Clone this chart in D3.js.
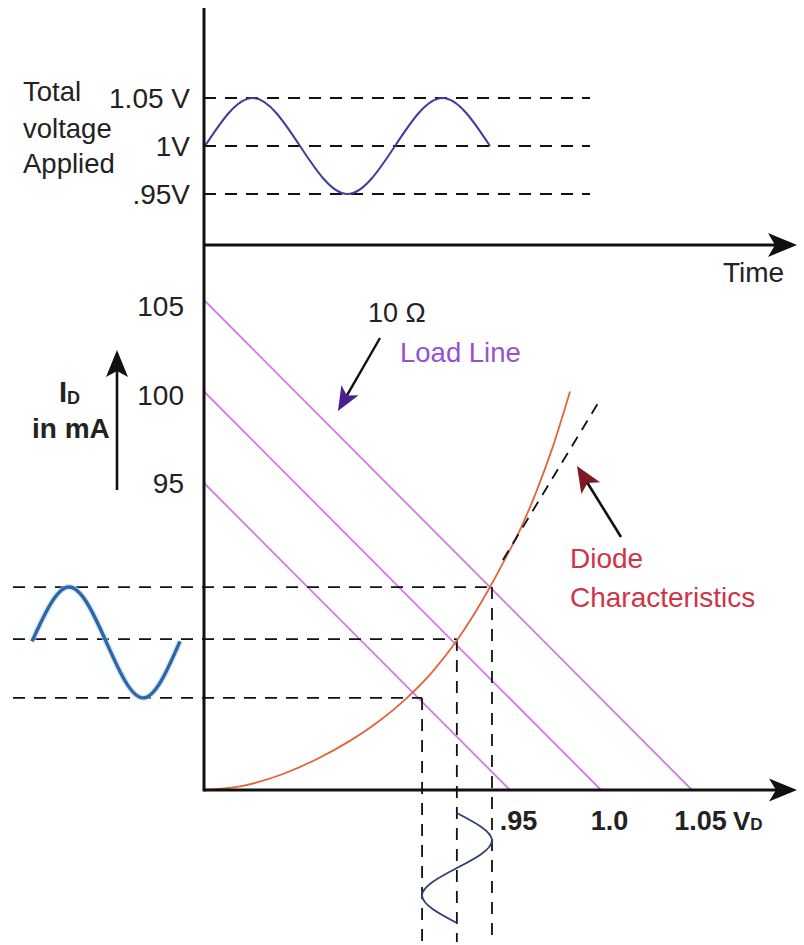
<!DOCTYPE html>
<html><head><meta charset="utf-8">
<script src="https://cdn.jsdelivr.net/npm/d3@7"></script>
<style>body{margin:0;background:#fff}svg{display:block}</style>
</head><body><svg id="c" width="804" height="945"></svg>
<script>
// ---------------- data ----------------
const vdTickValues = [0.95, 1.0, 1.05];
const vdTickLabels = [".95", "1.0", "1.05"];
const idTickValues = [105, 100, 95];
const idTickLabels = ["105", "100", "95"];
const supplyVoltages = [0.95, 1.0, 1.05];   // V
const loadResistance = 10;                  // ohm
const topTickValues = [1.05, 1.0, 0.95];
const topTickLabels = ["1.05 V", "1V", ".95V"];
const appliedPhase = [0, 0.25, 0.5, 0.75, 1, 1.25, 1.5];
const appliedVoltage = [1, 1.05, 1, 0.95, 1, 1.05, 1];
const diodeVD = [0, 0.112, 0.245, 0.351, 0.453, 0.546, 0.630, 0.711, 0.786, 0.888, 0.928, 0.9555, 0.9648, 0.9736, 0.983];
const diodeID = [0, 1.1, 4.95, 9.6, 15.2, 21.5, 28.5, 36.8, 46.4, 62.8, 70.2, 80.5, 92.8, 97.0, 100.0];
const tangentVD = [0.928, 0.998];
const tangentID = [71.2, 99.3];
const qVD = [0.677, 0.785, 0.894];
const qID = [28.5, 46.7, 62.8];
const currentPhase = [0, 0.25, 0.5, 0.75, 1];
const currentWave = [46, 62.8, 46, 28.5, 46];
const voltagePhase = [0, 0.25, 0.5, 0.75, 1];
const voltageWave = [0.785, 0.894, 0.785, 0.677, 0.785];

// ---------------- scales ----------------
const svg = d3.select("#c");
const FONT = '"Liberation Sans", Arial, sans-serif';
const x = d3.scaleLinear().domain([0, 0.95, 1.05]).range([204, 510, 692]);   // broken VD axis
const y = d3.scaleLinear().domain([0, 95, 105]).range([790, 483, 300]);      // broken ID axis
const tTop = d3.scaleLinear().domain([0, 1.5]).range([205, 490]);
const vTop = d3.scaleLinear().domain([0.95, 1.05]).range([194, 98]);
const tLeft = d3.scaleLinear().domain([0, 1]).range([32, 180]);
const tBottom = d3.scaleLinear().domain([0, 1]).range([813, 923]);
const dash = "12,9";

function arrowHead(tip, from, L, W, notch, fill) {
  const dx = tip[0] - from[0], dy = tip[1] - from[1];
  const len = Math.hypot(dx, dy), ux = dx / len, uy = dy / len, px = -uy, py = ux;
  const bx = tip[0] - ux * L, by = tip[1] - uy * L;
  const nx = tip[0] - ux * (L - notch), ny = tip[1] - uy * (L - notch);
  svg.append("path")
    .attr("d", `M${tip[0]},${tip[1]}L${bx + px * W},${by + py * W}L${nx},${ny}L${bx - px * W},${by - py * W}Z`)
    .attr("fill", fill);
  return [nx, ny];
}
function arrow(from, tip, L, W, notch, fill, sw) {
  const end = arrowHead(tip, from, L, W, notch, fill);
  svg.append("line").attr("x1", from[0]).attr("y1", from[1]).attr("x2", end[0]).attr("y2", end[1])
    .attr("stroke", "#111").attr("stroke-width", sw);
}

// ---------------- top panel ----------------
svg.append("g").selectAll("line").data(topTickValues).join("line")
  .attr("x1", 204).attr("x2", 590).attr("y1", d => vTop(d)).attr("y2", d => vTop(d))
  .attr("stroke", "#111").attr("stroke-width", 1.8).attr("stroke-dasharray", dash);

svg.append("path")
  .datum(appliedPhase.map((t, i) => [tTop(t), vTop(appliedVoltage[i])]))
  .attr("d", d3.line().curve(d3.curveNatural))
  .attr("fill", "none").attr("stroke", "#3d3d9e").attr("stroke-width", 2);

const topAxis = svg.append("g").attr("transform", "translate(204,0)")
  .call(d3.axisLeft(vTop).tickValues(topTickValues).tickFormat((d, i) => topTickLabels[i]).tickSize(0).tickPadding(14));
topAxis.select(".domain").remove();
topAxis.selectAll("text").attr("font-family", FONT).attr("font-size", 28).attr("fill", "#222").attr("dy", "0.34em");

svg.append("g").selectAll("text").data(["Total", "voltage", "Applied"]).join("text")
  .attr("x", 23).attr("y", (d, i) => [101, 138, 173][i]).text(d => d)
  .attr("font-family", FONT).attr("font-size", 27.5).attr("fill", "#222");

// ---------------- load lines ----------------
svg.append("g").selectAll("line").data(supplyVoltages).join("line")
  .attr("x1", x(0)).attr("y1", d => y(d / loadResistance * 1000))
  .attr("x2", d => x(d)).attr("y2", y(0))
  .attr("stroke", "#d27be3").attr("stroke-width", 1.8);

// ---------------- projections ----------------
svg.append("g").selectAll("line").data(qVD).join("line")
  .attr("x1", 13).attr("x2", d => x(d)).attr("y1", (d, i) => y(qID[i])).attr("y2", (d, i) => y(qID[i]))
  .attr("stroke", "#111").attr("stroke-width", 1.8).attr("stroke-dasharray", dash);
svg.append("g").selectAll("line").data(qVD).join("line")
  .attr("x1", d => x(d)).attr("x2", d => x(d)).attr("y1", (d, i) => y(qID[i])).attr("y2", 942)
  .attr("stroke", "#111").attr("stroke-width", 1.8).attr("stroke-dasharray", dash);

// ---------------- diode characteristic ----------------
svg.append("path")
  .datum(diodeVD.map((v, i) => [x(v), y(diodeID[i])]))
  .attr("d", d3.line().curve(d3.curveMonotoneX))
  .attr("fill", "none").attr("stroke", "#e0653c").attr("stroke-width", 1.8);
svg.append("line")
  .attr("x1", x(tangentVD[0])).attr("y1", y(tangentID[0])).attr("x2", x(tangentVD[1])).attr("y2", y(tangentID[1]))
  .attr("stroke", "#111").attr("stroke-width", 1.8).attr("stroke-dasharray", "11,8");

// ---------------- waveforms ----------------
const leftPts = currentPhase.map((t, i) => [tLeft(t), y(currentWave[i])]);
svg.append("path").datum(leftPts).attr("d", d3.line().curve(d3.curveNatural))
  .attr("fill", "none").attr("stroke", "#b9d4ee").attr("stroke-width", 6).attr("opacity", 0.6);
svg.append("path").datum(leftPts).attr("d", d3.line().curve(d3.curveNatural))
  .attr("fill", "none").attr("stroke", "#2d68a6").attr("stroke-width", 3.4);

svg.append("path")
  .datum(voltagePhase.map((t, i) => [x(voltageWave[i]), tBottom(t)]))
  .attr("d", d3.line().curve(d3.curveNatural))
  .attr("fill", "none").attr("stroke", "#2e4170").attr("stroke-width", 1.8);

// ---------------- axes ----------------
svg.append("line").attr("x1", 204).attr("x2", 204).attr("y1", 8).attr("y2", y(0) + 1.5)
  .attr("stroke", "#111").attr("stroke-width", 3);
arrow([204, 245], [797, 245], 29, 12, 7, "#111", 3);
arrow([204, y(0)], [797, y(0)], 28, 11.5, 7, "#111", 3);

const idAxis = svg.append("g").attr("transform", "translate(204,0)")
  .call(d3.axisLeft(y).tickValues(idTickValues).tickFormat((d, i) => idTickLabels[i]).tickSize(0).tickPadding(20));
idAxis.select(".domain").remove();
idAxis.selectAll("text").attr("font-family", FONT).attr("font-size", 28).attr("fill", "#222")
  .attr("dy", (d, i) => ["0.55em", "0.45em", "0.34em"][i]);

const vdAxis = svg.append("g").attr("transform", `translate(0,${y(0)})`)
  .call(d3.axisBottom(x).tickValues(vdTickValues).tickFormat((d, i) => vdTickLabels[i]).tickSize(0).tickPadding(21));
vdAxis.select(".domain").remove();
vdAxis.selectAll("text").attr("font-family", FONT).attr("font-size", 27).attr("font-weight", "bold")
  .attr("fill", "#222").attr("dx", 8);

// ---------------- labels ----------------
svg.append("text").attr("x", 723).attr("y", 282).text("Time")
  .attr("font-family", FONT).attr("font-size", 28).attr("fill", "#222");

const vd = svg.append("text").attr("x", 733).attr("y", 830)
  .attr("font-family", FONT).attr("font-weight", "bold").attr("fill", "#222");
vd.append("tspan").attr("font-size", 26).text("V");
vd.append("tspan").attr("font-size", 17).text("D");

const idl = svg.append("text").attr("x", 59).attr("y", 402)
  .attr("font-family", FONT).attr("font-weight", "bold").attr("fill", "#222");
idl.append("tspan").attr("font-size", 29).text("I");
idl.append("tspan").attr("font-size", 18).attr("dy", 2).text("D");
svg.append("text").attr("x", 32).attr("y", 438).text("in mA")
  .attr("font-family", FONT).attr("font-weight", "bold").attr("font-size", 28).attr("fill", "#222");
arrow([117, 490], [117, 350], 27, 11, 6, "#111", 2.6);

svg.append("text").attr("x", 368).attr("y", 322).text("10 \u03A9")
  .attr("font-family", FONT).attr("font-size", 27).attr("fill", "#222");
svg.append("text").attr("x", 400).attr("y", 362).text("Load Line")
  .attr("font-family", FONT).attr("font-size", 27.5).attr("fill", "#9651d2");
arrow([380, 338], [338, 411], 24, 10, 6, "#4c1f90", 2.4);

svg.append("text").attr("x", 570).attr("y", 568).text("Diode")
  .attr("font-family", FONT).attr("font-size", 28).attr("fill", "#cf3447");
svg.append("text").attr("x", 570).attr("y", 607).text("Characteristics")
  .attr("font-family", FONT).attr("font-size", 28).attr("fill", "#cf3447");
arrow([621, 537], [577, 466], 26, 11, 6, "#7e1a22", 2.6);
</script></body></html>
